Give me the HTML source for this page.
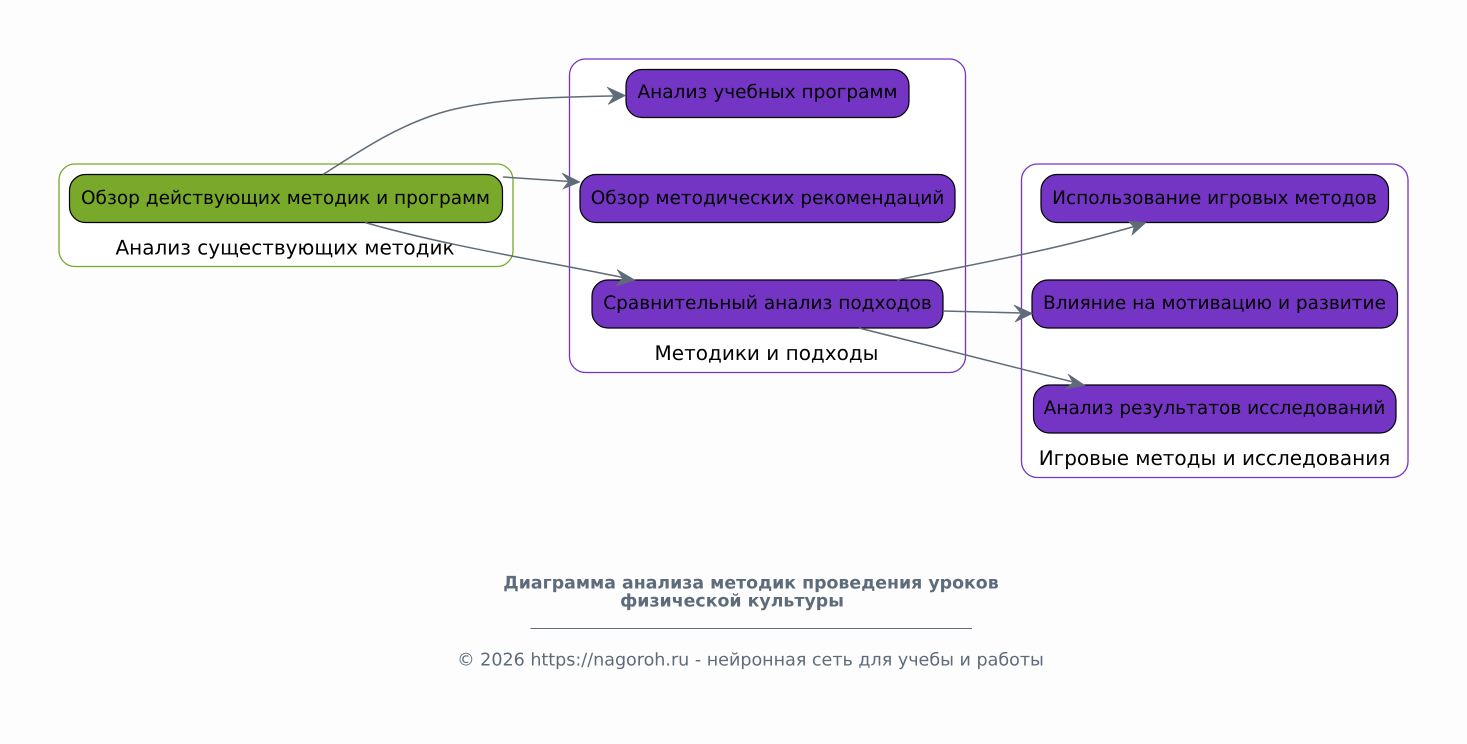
<!DOCTYPE html>
<html><head><meta charset="utf-8"><style>
html,body{margin:0;padding:0;background:#fdfdfd}
svg{display:block}
text{font-family:"DejaVu Sans",sans-serif;text-rendering:geometricPrecision}
.n{font-size:18.53px;fill:#000;text-anchor:middle}
.c{font-size:20px;fill:#000;text-anchor:middle}
.e{fill:none;stroke:#5f6b78;stroke-width:1.5}
.a{fill:#5f6b78;stroke:#5f6b78;stroke-width:.6;stroke-linejoin:miter}
.g{fill:#fff;stroke-width:1.3}
.nd{stroke:#000;stroke-width:1.2}
</style></head><body>
<svg width="1467" height="744" viewBox="0 0 1467 744" xmlns="http://www.w3.org/2000/svg">
<rect width="1467" height="744" fill="#fdfdfd"/>
<rect class="g" x="59" y="164" width="454" height="102.500" rx="16" stroke="#79a92a"/>
<rect class="g" x="569.500" y="59" width="396" height="313.500" rx="16" stroke="#7535c4"/>
<rect class="g" x="1021.500" y="164" width="386.500" height="313.500" rx="16" stroke="#7535c4"/>
<text class="c" x="285" y="254.700">Анализ существующих методик</text>
<text class="c" x="766.500" y="360">Методики и подходы</text>
<text class="c" x="1214.500" y="464.800">Игровые методы и исследования</text>
<rect class="nd" x="69.500" y="174.500" width="433" height="48" rx="16" fill="#79a92a"/>
<rect class="nd" x="626" y="69.500" width="283" height="48" rx="16" fill="#7535c4"/>
<rect class="nd" x="580" y="174.500" width="375" height="48" rx="16" fill="#7535c4"/>
<rect class="nd" x="592" y="280" width="351" height="48" rx="16" fill="#7535c4"/>
<rect class="nd" x="1041" y="174.500" width="347.500" height="48" rx="16" fill="#7535c4"/>
<rect class="nd" x="1032" y="280" width="365.500" height="48" rx="16" fill="#7535c4"/>
<rect class="nd" x="1033.500" y="385" width="362.500" height="48" rx="16" fill="#7535c4"/>
<text class="n" x="285.500" y="204">Обзор действующих методик и программ</text>
<text class="n" x="767.500" y="98">Анализ учебных программ</text>
<text class="n" x="767.500" y="204">Обзор методических рекомендаций</text>
<text class="n" x="767.500" y="309">Сравнительный анализ подходов</text>
<text class="n" x="1214.500" y="204">Использование игровых методов</text>
<text class="n" x="1214.500" y="309">Влияние на мотивацию и развитие</text>
<text class="n" x="1214.500" y="414">Анализ результатов исследований</text>
<path class="e" d="M323 174.500C360 151 395 127 440 113C490 98 560 97 615 96"/>
<path class="a" d="M607 87L625.500 95.500L608 104.500L614 96Z"/>
<path class="e" d="M503 177L570 181.500"/>
<path class="a" d="M562 173L580 182L563 189L568.500 181.500Z"/>
<path class="e" d="M365 222.500C450 247 550 262 625 278"/>
<path class="a" d="M617 269.500L635 280L616 286L622.500 278Z"/>
<path class="e" d="M897 280C960 267 1010 258 1060 246C1090 239 1115 232 1136 226"/>
<path class="a" d="M1128 221L1146 222.500L1132 235L1134 227Z"/>
<path class="e" d="M943 311L1022 313"/>
<path class="a" d="M1014 305L1032.500 313.500L1015 322L1021 313.500Z"/>
<path class="e" d="M859 328L1075 382.500"/>
<path class="a" d="M1068 374L1085 385.500L1065 389L1073 382.500Z"/>
<text x="751" y="588.300" font-size="17.360" font-weight="700" fill="#5d6b7a" text-anchor="middle">Диаграмма анализа методик проведения уроков</text>
<text x="732" y="606.300" font-size="17.360" font-weight="700" fill="#5d6b7a" text-anchor="middle">физической культуры</text>
<rect x="530.500" y="628" width="441.500" height="1" fill="#5d6b7a"/>
<text x="750.500" y="665.500" font-size="17.530" fill="#5d6b7a" text-anchor="middle">© 2026 https://nagoroh.ru - нейронная сеть для учебы и работы</text>
</svg>
</body></html>
